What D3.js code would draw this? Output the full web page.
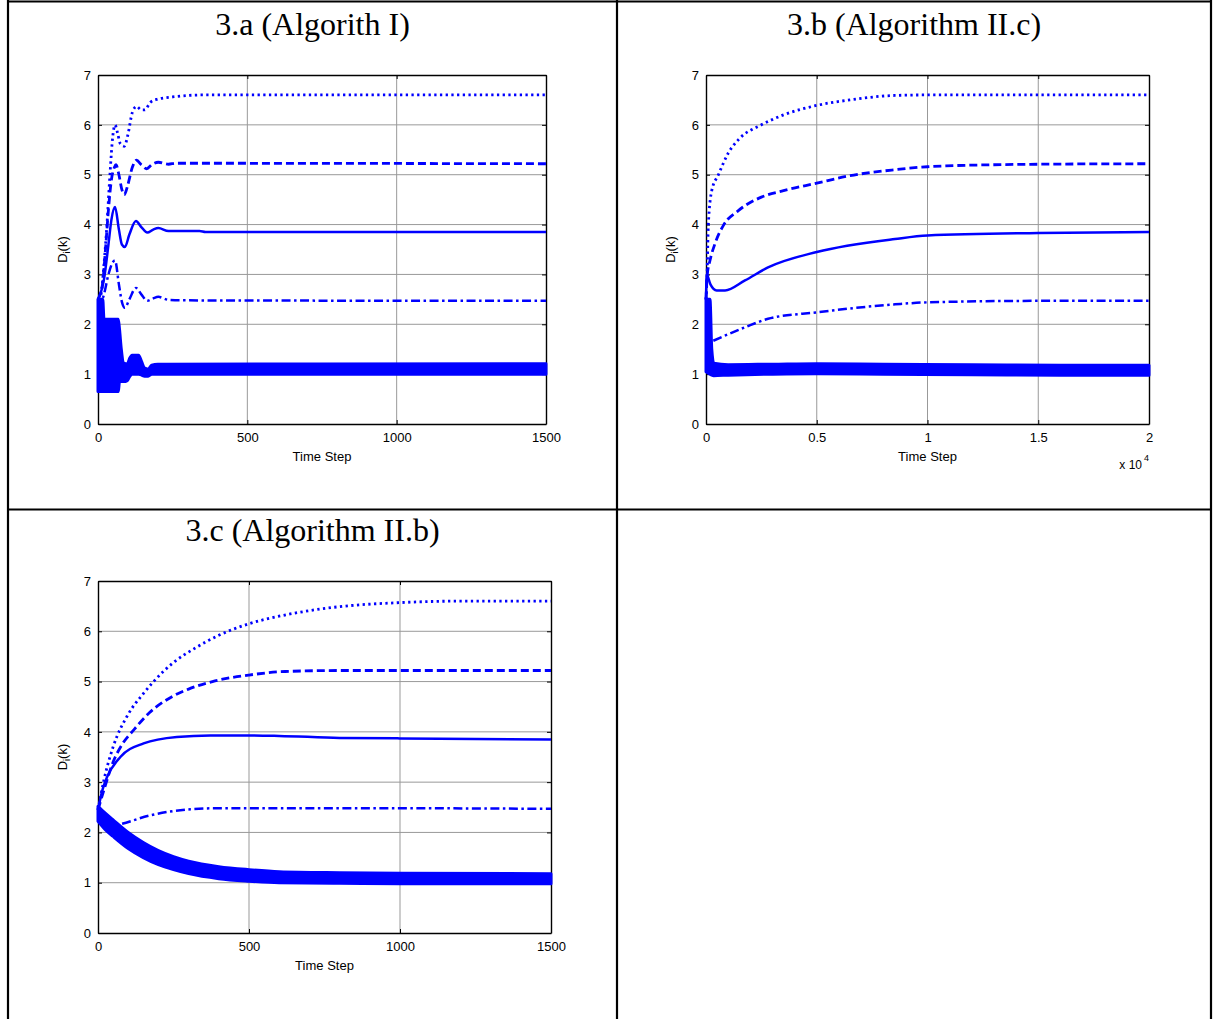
<!DOCTYPE html>
<html><head><meta charset="utf-8">
<script src="https://cdn.jsdelivr.net/npm/d3@7"></script>
<style>body{margin:0;background:#fff}svg{display:block}</style>
</head><body>
<svg id="c" width="1213" height="1019"></svg>
<script>
// ---------- DATA ----------
const titles = ["3.a (Algorith I)", "3.b (Algorithm II.c)", "3.c (Algorithm II.b)"];
const yTicks = [0, 1, 2, 3, 4, 5, 6, 7];
const xTicksA = [0, 500, 1000, 1500];
const xTicksB = [0, 5000, 10000, 15000, 20000];
const xTicksC = [0, 500, 1000, 1500];
const xLabel = "Time Step";

// Panel 3.a  [time step, D]
const aDotted = [[0,2.5],[10,2.6],[20,3.2],[30,4.0],[40,5.0],[50,5.8],[57,6.0],[65,5.85],[75,5.62],[88,5.57],[100,5.8],[115,6.25],[129,6.37],[145,6.3],[157,6.3],[175,6.45],[196,6.51],[250,6.56],[352,6.6],[1500,6.6]];
const aDashed = [[0,2.5],[15,2.8],[25,3.5],[35,4.3],[45,4.9],[55,5.15],[60,5.2],[70,5.0],[80,4.7],[88,4.6],[100,4.8],[115,5.15],[129,5.29],[145,5.2],[163,5.12],[180,5.2],[202,5.25],[236,5.21],[260,5.23],[1500,5.22]];
const aSolid = [[0,2.5],[20,2.9],[35,3.6],[45,4.1],[57,4.35],[70,3.9],[80,3.6],[90,3.55],[105,3.8],[127,4.07],[145,3.95],[165,3.84],[185,3.9],[202,3.93],[236,3.87],[340,3.87],[360,3.85],[1500,3.85]];
const aDashDot = [[0,2.3],[20,2.6],[35,3.0],[50,3.25],[57,3.28],[70,2.8],[80,2.45],[90,2.33],[105,2.5],[127,2.73],[145,2.6],[165,2.47],[185,2.52],[202,2.55],[236,2.49],[300,2.48],[1500,2.47]];
// band [time step, low, high]
const aBand = [[0,0.65,2.5],[16,0.65,2.5],[20,0.65,2.1],[68,0.65,2.1],[72,0.85,1.9],[78,0.85,1.5],[86,0.85,1.22],[98,0.87,1.2],[106,0.95,1.32],[114,1.0,1.38],[136,1.0,1.38],[146,0.98,1.25],[156,0.96,1.12],[168,0.96,1.1],[180,1.0,1.18],[200,1.0,1.2],[230,1.0,1.2],[1500,1.0,1.21]];

// Panel 3.b
const bDotted = [[0,2.5],[50,3.0],[104,3.98],[260,4.68],[560,5.0],[1000,5.43],[1500,5.72],[2500,6.0],[3500,6.2],[5000,6.39],[6500,6.5],[8530,6.59],[10000,6.6],[20000,6.6]];
const bDashed = [[0,2.5],[60,3.0],[180,3.28],[400,3.61],[780,3.98],[1460,4.28],[2500,4.55],[3500,4.68],[5000,4.83],[6500,4.98],[8530,5.1],[10000,5.16],[13000,5.2],[15000,5.21],[20000,5.22]];
const bSolid = [[0,2.5],[30,3.0],[200,2.8],[480,2.68],[860,2.68],[1760,2.88],[2800,3.14],[5000,3.45],[8530,3.71],[10000,3.78],[15000,3.83],[20000,3.85]];
const bDashDot = [[330,1.67],[1760,1.94],[2800,2.11],[5000,2.24],[8530,2.40],[10000,2.44],[15000,2.47],[20000,2.47]];
const bBand = [[0,1.05,2.5],[180,1.0,2.5],[260,0.98,1.5],[350,0.97,1.22],[1000,0.98,1.19],[3000,1.0,1.2],[5000,1.01,1.21],[8000,1.0,1.2],[12000,0.99,1.19],[16000,0.98,1.18],[20000,0.98,1.18]];

// Panel 3.c
const cDotted = [[0,2.45],[20,3.05],[50,3.7],[100,4.35],[150,4.76],[184,5.0],[250,5.38],[320,5.66],[400,5.92],[500,6.15],[600,6.3],[700,6.41],[800,6.49],[1000,6.57],[1200,6.6],[1500,6.6]];
const cDashed = [[0,2.45],[20,2.85],[50,3.4],[80,3.75],[120,4.05],[170,4.38],[245,4.7],[300,4.85],[379,5.0],[500,5.13],[620,5.2],[800,5.22],[1500,5.22]];
const cSolid = [[0,2.45],[15,2.85],[30,3.1],[74,3.5],[151,3.77],[261,3.9],[372,3.93],[500,3.93],[600,3.92],[800,3.88],[1000,3.87],[1500,3.85]];
const cDashDot = [[20,2.1],[41,2.11],[79,2.17],[173,2.34],[306,2.46],[394,2.48],[600,2.48],[1000,2.48],[1500,2.47]];
const cBand = [[0,2.22,2.52],[25,2.05,2.38],[50,1.92,2.25],[100,1.68,2.0],[150,1.5,1.8],[200,1.36,1.64],[250,1.26,1.52],[300,1.18,1.43],[400,1.08,1.32],[500,1.03,1.26],[600,1.0,1.22],[800,0.99,1.2],[1000,0.98,1.19],[1500,0.98,1.18]];

// ---------- LAYOUT ----------
const svg = d3.select("#c");
svg.append("rect").attr("width",1213).attr("height",1019).attr("fill","#fff");

const BLUE = "#0000ff";
const FONT = "'Liberation Sans', Arial, Helvetica, sans-serif";
const SERIF = "'Liberation Serif', 'Times New Roman', serif";

// table borders
const tb = svg.append("g").attr("stroke","#000").attr("stroke-width",2.2);
tb.append("line").attr("x1",8).attr("x2",8).attr("y1",0).attr("y2",1019);
tb.append("line").attr("x1",1211).attr("x2",1211).attr("y1",0).attr("y2",1019);
tb.append("line").attr("x1",617).attr("x2",617).attr("y1",0).attr("y2",1019);
tb.append("line").attr("x1",7).attr("x2",1212).attr("y1",1.5).attr("y2",1.5);
tb.append("line").attr("x1",7).attr("x2",1212).attr("y1",509.5).attr("y2",509.5);

const panels = [
  {title:titles[0], tcx:312.5, tby:35, x0:98, x1:546, y0:75, y1:424, dom:[0,1500], ticks:xTicksA, fmt:d=>String(d),
   lines:{dotted:aDotted,dashed:aDashed,solid:aSolid,dashdot:aDashDot}, band:aBand, exp:false},
  {title:titles[1], tcx:914, tby:35, x0:706, x1:1149, y0:75, y1:424, dom:[0,20000], ticks:xTicksB, fmt:d=>String(d/10000),
   lines:{dotted:bDotted,dashed:bDashed,solid:bSolid,dashdot:bDashDot}, band:bBand, exp:true},
  {title:titles[2], tcx:312.5, tby:541, x0:98, x1:551, y0:581, y1:933, dom:[0,1500], ticks:xTicksC, fmt:d=>String(d),
   lines:{dotted:cDotted,dashed:cDashed,solid:cSolid,dashdot:cDashDot}, band:cBand, exp:false}
];

const styles = {
  dotted:{w:2.8, dash:"2.3,3.4"},
  dashed:{w:2.8, dash:"8,4"},
  solid:{w:2.5, dash:null},
  dashdot:{w:2.5, dash:"9,3.5,2.5,3.5"}
};

panels.forEach(p => {
  const g = svg.append("g");
  const x = d3.scaleLinear().domain(p.dom).range([p.x0, p.x1]);
  const y = d3.scaleLinear().domain([0,7]).range([p.y1, p.y0]);

  g.append("text").attr("x",p.tcx).attr("y",p.tby).attr("text-anchor","middle")
    .attr("font-family",SERIF).attr("font-size",32).attr("fill","#000").text(p.title);

  // grid
  const grid = g.append("g").attr("stroke","#999").attr("stroke-width",1);
  p.ticks.slice(1,-1).forEach(t => grid.append("line").attr("x1",x(t)).attr("x2",x(t)).attr("y1",p.y0).attr("y2",p.y1));
  yTicks.slice(1,-1).forEach(t => grid.append("line").attr("x1",p.x0).attr("x2",p.x1).attr("y1",y(t)).attr("y2",y(t)));

  // axes (ticks inside)
  const axB = d3.axisBottom(x).tickValues(p.ticks).tickFormat(p.fmt).tickSizeInner(-4).tickSizeOuter(0).tickPadding(9);
  const axT = d3.axisTop(x).tickValues(p.ticks).tickFormat("").tickSizeInner(-4).tickSizeOuter(0);
  const axL = d3.axisLeft(y).tickValues(yTicks).tickFormat(d3.format("d")).tickSizeInner(-4).tickSizeOuter(0).tickPadding(7);
  const axR = d3.axisRight(y).tickValues(yTicks).tickFormat("").tickSizeInner(-4).tickSizeOuter(0);
  [[axB,`translate(0,${p.y1})`],[axT,`translate(0,${p.y0})`],[axL,`translate(${p.x0},0)`],[axR,`translate(${p.x1},0)`]].forEach(([ax,tr])=>{
    const a = g.append("g").attr("transform",tr).call(ax);
    a.selectAll("path").attr("stroke","#000").attr("stroke-width",1.4);
    a.selectAll("line").attr("stroke","#000");
    a.selectAll("text").attr("font-family",FONT).attr("font-size",13).attr("fill","#000");
  });

  // axis labels
  g.append("text").attr("x",(p.x0+p.x1)/2).attr("y",p.y1+37).attr("text-anchor","middle")
    .attr("font-family",FONT).attr("font-size",13).text(xLabel);
  const yl = g.append("text").attr("transform",`translate(${p.x0-31},${(p.y0+p.y1)/2}) rotate(-90)`)
    .attr("text-anchor","middle").attr("font-family",FONT).attr("font-size",13);
  yl.append("tspan").text("D");
  yl.append("tspan").attr("font-size",9).attr("dy",3).text("i");
  yl.append("tspan").attr("dy",-3).text("(k)");

  if (p.exp) {
    const e = g.append("text").attr("x",p.x1-7).attr("y",p.y1+45).attr("text-anchor","end")
      .attr("font-family",FONT).attr("font-size",12);
    e.text("x 10");
    g.append("text").attr("x",p.x1-5).attr("y",p.y1+37).attr("font-family",FONT).attr("font-size",9).text("4");
  }

  // band
  const area = d3.area().x(d=>x(d[0])).y0(d=>y(d[1])).y1(d=>y(d[2])).curve(d3.curveMonotoneX);
  g.append("path").datum(p.band).attr("d",area).attr("fill",BLUE).attr("stroke",BLUE).attr("stroke-width",3).attr("stroke-linejoin","round");

  // lines
  const line = d3.line().x(d=>x(d[0])).y(d=>y(d[1])).curve(d3.curveMonotoneX);
  Object.entries(p.lines).forEach(([k,data])=>{
    const s = styles[k];
    const path = g.append("path").datum(data).attr("d",line).attr("fill","none")
      .attr("stroke",BLUE).attr("stroke-width",s.w);
    if (s.dash) path.attr("stroke-dasharray",s.dash);
  });
});
</script>
</body></html>
